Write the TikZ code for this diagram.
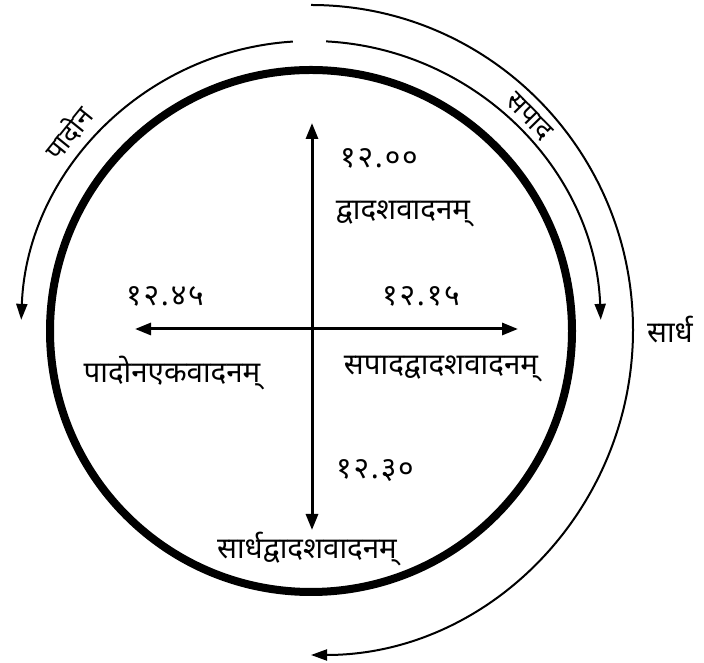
\documentclass[tikz,border=0pt]{standalone}
\usepackage{fontspec}
\newfontfamily\deva[Script=Devanagari]{Noto Sans}
\newfontfamily\devadig[Script=Devanagari,LetterSpace=6]{Noto Sans}
\usetikzlibrary{arrows.meta}
\begin{document}
\begin{tikzpicture}[x=1pt,y=1pt,
  word/.style={inner sep=0pt,font=\deva\fontsize{29.5}{32}\selectfont},
  arcword/.style={inner sep=0pt,font=\deva\fontsize{27}{30}\selectfont},
  num/.style={inner sep=0pt,font=\devadig\fontsize{30}{32}\selectfont},
  axis/.style={line width=3pt,-{Triangle[length=16pt,width=12pt]}},
  ring/.style={line width=2pt,-{Triangle[length=16pt,width=11pt]}}]
\useasboundingbox (0,0) rectangle (704,663);
\coordinate (C) at (311,332);
\coordinate (O) at (312,334);
\coordinate (top) at (312,540);
\coordinate (bot) at (312,133);
\coordinate (lft) at (135,334);
\coordinate (rgt) at (518,334);
% main circle
\draw[line width=8pt] (C) circle[radius=261];
% axes
\draw[axis] (O) -- (top);
\draw[axis] (O) -- (bot);
\draw[axis] (O) -- (lft);
\draw[axis] (O) -- (rgt);
% outer arc
\draw[ring] ([shift={(90:326)}]C) coordinate (o1) arc[start angle=90,end angle=-90,x radius=322,y radius=325];
% middle arc (sapada)
\draw[ring] ([shift={(87:290)}]C) coordinate (m1) arc[start angle=87,end angle=2.2,radius=290];
% left arc (padona)
\draw[ring] ([shift={(93.6:290)}]C) coordinate (l1) arc[start angle=93.6,end angle=177.8,radius=290];
% labels
\node[num] (d00) at (379,505) {१२.००};
\node[word] (w00) at (403,449) {द्वादशवादनम्};
\node[num] (d45) at (165,367) {१२.४५};
\node[word] (w45) at (172,290) {पादोनएकवादनम्};
\node[num] (d15) at (421,367) {१२.१५};
\node[word] (w15) at (441,294) {सपादद्वादशवादनम्};
\node[num] (d30) at (375,192) {१२.३०};
\node[word] (w30) at (307,114) {सार्धद्वादशवादनम्};
\node[word] (sardha) at (670,334) {सार्ध};
\node[arcword,rotate=-45.5] (sapada) at (529,546) {सपाद};
\node[arcword,rotate=51] (padona) at (68,530) {पादोन};
\end{tikzpicture}
\end{document}
